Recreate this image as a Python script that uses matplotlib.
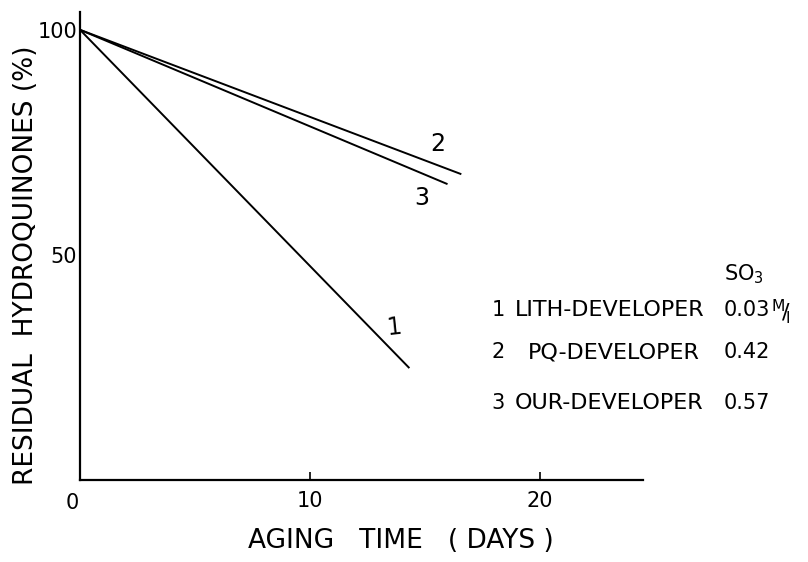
import matplotlib.pyplot as plt

# aging curves: start / end points of each developer's line
days_1 = [0, 14.3]
hq_1 = [100, 25]
days_2 = [0, 16.55]
hq_2 = [100, 68]
days_3 = [0, 15.95]
hq_3 = [100, 65.8]

curve_ids = ['1', '2', '3']
developers = ['LITH-DEVELOPER', 'PQ-DEVELOPER', 'OUR-DEVELOPER']
so3_conc = ['0.03', '0.42', '0.57']

plt.rcParams['font.family'] = 'DejaVu Sans'

fig = plt.figure(figsize=(8.08, 5.62), dpi=100)
ax = fig.add_axes([0.099, 0.146, 0.697, 0.833])

for x, y in [(days_1, hq_1), (days_2, hq_2), (days_3, hq_3)]:
    ax.plot(x, y, color='black', lw=1.4)

ax.set_xlim(0, 24.5)
ax.set_ylim(0, 104)
ax.spines['top'].set_visible(False)
ax.spines['right'].set_visible(False)
ax.spines['left'].set_linewidth(1.6)
ax.spines['bottom'].set_linewidth(1.6)

ax.set_xticks([10, 20])
ax.set_xticklabels(['10', '20'])
ax.tick_params(axis='x', direction='in', length=6, width=1.2, labelsize=15, pad=8)
ax.set_yticks([50, 100])
ax.set_yticklabels(['50', '100'])
ax.tick_params(axis='y', length=0, labelsize=15, pad=2)
ax.text(-0.35, -2.8, '0', ha='center', va='top', fontsize=15)

fig.text(401 / 808, 1 - 541 / 562, 'AGING   TIME   ( DAYS )', fontsize=19,
         ha='center', va='center')
fig.text(26 / 808, 1 - 265 / 562, 'RESIDUAL  HYDROQUINONES (%)', fontsize=19,
         ha='center', va='center', rotation=90)

# curve numbers beside the line ends
ax.text(15.57, 74.7, '2', fontsize=17, ha='center', va='center')
ax.text(14.87, 62.7, '3', fontsize=17, ha='center', va='center')
ax.text(13.65, 34, '1', fontsize=17, ha='center', va='center', rotation=6)

# key table
ax.text(28.0, 45.8, 'SO$_3$', fontsize=15, ha='left', va='center', clip_on=False)
row_y = [37.8, 28.4, 17.1]
for cid, name, conc, y in zip(curve_ids, developers, so3_conc, row_y):
    ax.text(17.9, y, cid, fontsize=15, ha='left', va='center', clip_on=False)
    ax.text(18.9 if cid != '2' else 19.5, y, name, fontsize=16,
            ha='left', va='center', clip_on=False)
    ax.text(28.0, y, conc, fontsize=15, ha='left', va='center', clip_on=False)
ax.text(30.05, 37.3, '$^{\\mathrm{M}}\\!/\\!_{\\mathrm{l}}$', fontsize=16,
        ha='left', va='center', clip_on=False)

plt.savefig('out.png', dpi=100)
